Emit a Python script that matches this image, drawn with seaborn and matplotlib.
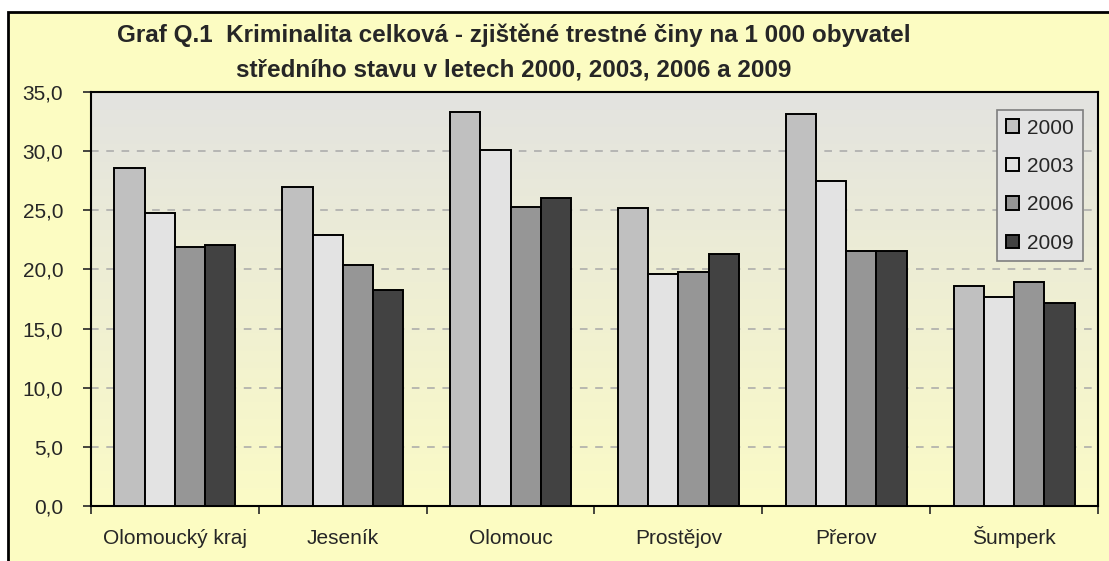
import seaborn as sns
import matplotlib.pyplot as plt
import matplotlib.patches as mpatches
from matplotlib.colors import LinearSegmentedColormap
import numpy as np
import pandas as pd

sns.set_style("ticks")
plt.rcParams["font.family"] = ["Liberation Sans", "DejaVu Sans"]

districts = ["Olomoucký kraj", "Jeseník", "Olomouc", "Prostějov", "Přerov", "Šumperk"]
years = ["2000", "2003", "2006", "2009"]
rate_2000 = [28.6, 27.0, 33.3, 25.2, 33.1, 18.6]
rate_2003 = [24.8, 22.9, 30.1, 19.6, 27.5, 17.7]
rate_2006 = [21.9, 20.4, 25.3, 19.8, 21.6, 18.9]
rate_2009 = [22.1, 18.3, 26.0, 21.3, 21.6, 17.2]
bar_colors = ["#C0C0C0", "#E3E3E3", "#969696", "#424242"]
y_ticks = [0, 5, 10, 15, 20, 25, 30, 35]

rows = []
for yr, vals in zip(years, [rate_2000, rate_2003, rate_2006, rate_2009]):
    for d, v in zip(districts, vals):
        rows.append({"okres": d, "rok": yr, "hodnota": v})
df = pd.DataFrame(rows)

W, H = 1109, 561
fig = plt.figure(figsize=(W / 100, H / 100), dpi=100)
fig.patch.set_facecolor("white")

# yellow chart area with black frame (right/bottom edge cut off)
frame = mpatches.Rectangle((8 / W, -0.1), 1.2, 1 - 12 / H + 0.1, transform=fig.transFigure,
                           facecolor="#FCFCC2", edgecolor="black", linewidth=2, zorder=-1)
fig.patches.append(frame)

ax = fig.add_axes([91 / W, 1 - 506 / H, 1007 / W, 414 / H])

# gradient plot area: grey on top, pale yellow at the bottom
cmap = LinearSegmentedColormap.from_list("bg", ["#FBFBC6", "#E3E3E0"])
grad = np.linspace(0, 1, 256).reshape(-1, 1)
ax.imshow(grad, cmap=cmap, origin="lower", extent=[0, 1, 0, 1], transform=ax.transAxes,
          aspect="auto", zorder=0)

sns.barplot(data=df, x="okres", y="hodnota", hue="rok", hue_order=years, order=districts,
            palette=bar_colors, saturation=1, width=0.72, edgecolor="black", linewidth=1.4,
            ax=ax, zorder=3)

ax.set_xlim(-0.5, len(districts) - 0.5)
ax.set_ylim(0, 35)
ax.set_yticks(y_ticks)
ax.set_yticklabels(["{:.1f}".format(t).replace(".", ",") for t in y_ticks], fontsize=15)
ax.set_xticks(range(len(districts)))
ax.set_xticklabels(districts, fontsize=15, va="baseline")
ax.set_xticks(np.arange(-0.5, len(districts), 1), minor=True)
ax.tick_params(axis="x", which="major", length=0, pad=27)
ax.tick_params(axis="x", which="minor", length=6, width=1.2, direction="out")
ax.tick_params(axis="y", length=6, width=1.2, direction="out", pad=14)
ax.set_xlabel("")
ax.set_ylabel("")

for y in y_ticks[1:-1]:
    ax.axhline(y, color="#A8A8A8", linestyle=(0, (5, 5)), linewidth=1.1, zorder=1)

for s in ax.spines.values():
    s.set_visible(True)
    s.set_color("black")
    s.set_linewidth(1.5)

leg = ax.legend(loc="upper right", bbox_to_anchor=(0.985, 0.957), borderaxespad=0,
                fontsize=15, frameon=True, fancybox=False, handlelength=0.62,
                handleheight=0.62, handletextpad=0.4, labelspacing=0.93, borderpad=0.42)
leg.get_frame().set_facecolor("#E3E3E3")
leg.get_frame().set_edgecolor("#7F7F7F")
leg.get_frame().set_alpha(1)
leg.get_frame().set_linewidth(1.2)

fig.text(514 / W, 1 - 35 / H, "Graf Q.1  Kriminalita celková - zjištěné trestné činy na 1 000 obyvatel",
         ha="center", va="center", fontsize=17.5, fontweight="bold")
fig.text(514 / W, 1 - 70 / H, "středního stavu v letech 2000, 2003, 2006 a 2009",
         ha="center", va="center", fontsize=17.5, fontweight="bold")

fig.savefig("out.png", dpi=100)
